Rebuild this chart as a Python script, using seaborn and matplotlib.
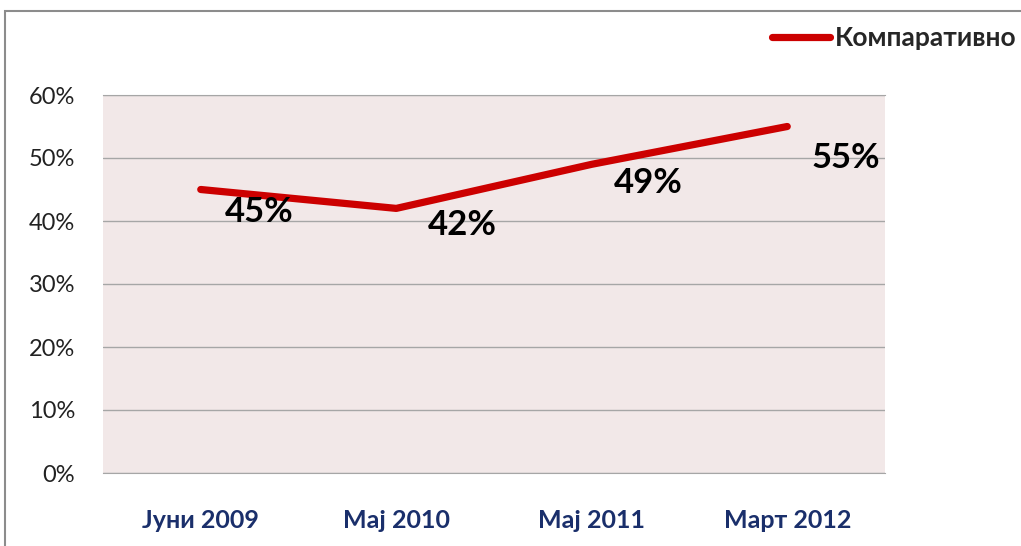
import pandas as pd
import seaborn as sns
import matplotlib.pyplot as plt
from matplotlib.patches import Rectangle

periods = ["Јуни 2009", "Мај 2010", "Мај 2011", "Март 2012"]
values = [0.45, 0.42, 0.49, 0.55]
labels = ["45%", "42%", "49%", "55%"]
series_name = "Компаративно"

sns.set_style("white")
plt.rcParams['font.family'] = ['Lato', 'Open Sans', 'DejaVu Sans']

df = pd.DataFrame({"period": periods, "value": values, "series": series_name})
df["pos"] = range(len(df))

fig = plt.figure(figsize=(10.21, 5.46), dpi=100)
ax = fig.add_axes([103 / 1021, 1 - 473 / 546, 782 / 1021, 378 / 546])
ax.set_facecolor("#F2E8E8")

sns.lineplot(data=df, x="pos", y="value", hue="series", palette=["#CC0000"],
             linewidth=5.2, ax=ax, legend=False, solid_capstyle="round")

# data labels, down-right of the points
offsets = [(58, -22), (66, -17), (57, -19), (59, -31)]
for i, (v, lab) in enumerate(zip(values, labels)):
    ax.annotate(lab, (i, v), xytext=offsets[i], textcoords="offset pixels",
                ha="center", va="center", fontsize=25, fontweight="bold", color="black")

ax.set_xlim(-0.5, 3.5)
ax.set_ylim(0, 0.6)
ax.set_yticks([0, 0.1, 0.2, 0.3, 0.4, 0.5, 0.6])
ax.set_yticklabels(["0%", "10%", "20%", "30%", "40%", "50%", "60%"], fontsize=17, color="#222222")
ax.set_xticks(range(len(periods)))
ax.set_xticklabels(periods, fontsize=18, fontweight="bold", color="#1A2F6B")
ax.tick_params(axis="both", length=0)
ax.tick_params(axis="y", pad=20)
ax.tick_params(axis="x", pad=26)
ax.grid(axis="y", color="#A6A6A6", linewidth=1)
ax.set_axisbelow(True)
ax.set_xlabel("")
ax.set_ylabel("")
for s in ["left", "right"]:
    ax.spines[s].set_visible(False)
for s in ["top", "bottom"]:
    ax.spines[s].set_color("#A6A6A6")

# legend in the top right corner
handle = plt.Line2D([], [], color="#CC0000", linewidth=5.2, solid_capstyle="round")
fig.legend([handle], [series_name], loc="center left", bbox_to_anchor=(748 / 1021, 1 - 38 / 546),
           frameon=False, handlelength=2.2, handletextpad=0.2,
           prop={"size": 19, "weight": "bold"})

# outer chart frame, cut off on the right and bottom
fig.patches.append(Rectangle((5 / 1021, -0.1), 1.2, 1 - 11 / 546 + 0.1, transform=fig.transFigure,
                             fill=False, edgecolor="#8C8C8C", linewidth=1.5))

fig.savefig("out.png", dpi=100)
